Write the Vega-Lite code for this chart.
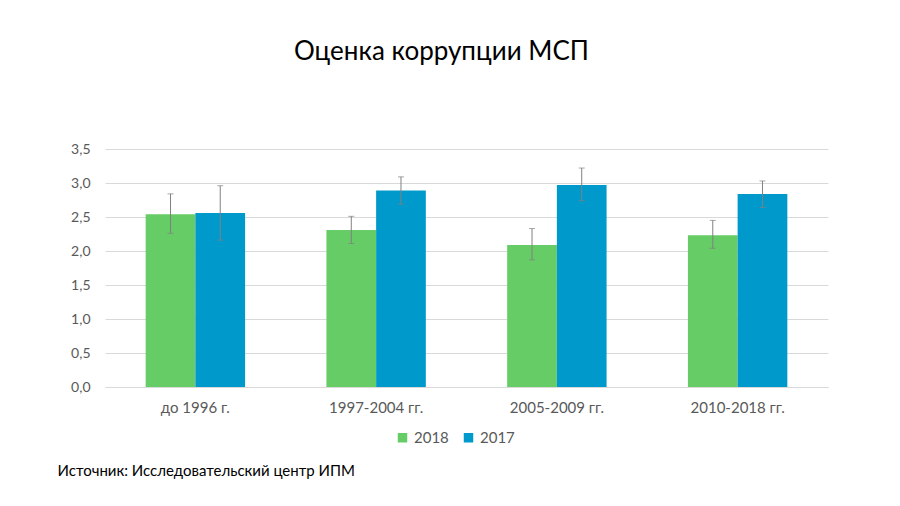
{
  "$schema": "https://vega.github.io/schema/vega-lite/v6.json",
  "width": 723,
  "height": 238,
  "autosize": {"type": "none"},
  "padding": {"left": 105, "top": 149, "right": 72, "bottom": 119},
  "background": "white",
  "title": {
    "text": "Оценка коррупции МСП",
    "anchor": "middle",
    "frame": "group",
    "dx": -25,
    "baseline": "alphabetic",
    "offset": 56,
    "font": "Lato",
    "fontSize": 26,
    "fontWeight": 400,
    "color": "#000000"
  },
  "data": {
    "values": [
      {"period": "до 1996 г.", "year": "2018", "value": 2.54, "lower": 2.26, "upper": 2.84},
      {"period": "до 1996 г.", "year": "2017", "value": 2.56, "lower": 2.16, "upper": 2.96},
      {"period": "1997-2004 гг.", "year": "2018", "value": 2.31, "lower": 2.11, "upper": 2.51},
      {"period": "1997-2004 гг.", "year": "2017", "value": 2.89, "lower": 2.69, "upper": 3.09},
      {"period": "2005-2009 гг.", "year": "2018", "value": 2.09, "lower": 1.87, "upper": 2.33},
      {"period": "2005-2009 гг.", "year": "2017", "value": 2.97, "lower": 2.74, "upper": 3.22},
      {"period": "2010-2018 гг.", "year": "2018", "value": 2.23, "lower": 2.04, "upper": 2.45},
      {"period": "2010-2018 гг.", "year": "2017", "value": 2.84, "lower": 2.64, "upper": 3.03}
    ]
  },
  "encoding": {
    "x": {
      "field": "period",
      "type": "nominal",
      "sort": null,
      "scale": {"paddingInner": 0.45, "paddingOuter": 0.225},
      "axis": {
        "title": "Источник: Исследовательский центр ИПМ",
        "titleAnchor": "start",
        "titleX": -48,
        "titleY": 88,
        "titleBaseline": "alphabetic",
        "titleFont": "Lato",
        "titleFontSize": 15,
        "titleFontWeight": 400,
        "titleColor": "#000000",
        "labelAngle": 0,
        "labelFont": "Lato",
        "labelFontSize": 15,
        "labelColor": "#595959",
        "labelPadding": 13,
        "ticks": false,
        "domain": true,
        "domainColor": "#D9D9D9",
        "grid": false
      }
    },
    "xOffset": {"field": "year", "type": "nominal", "sort": ["2018", "2017"]}
  },
  "layer": [
    {
      "mark": {"type": "bar"},
      "encoding": {
        "y": {
          "field": "value",
          "type": "quantitative",
          "scale": {"domain": [0, 3.5]},
          "axis": {
            "title": null,
            "values": [0, 0.5, 1, 1.5, 2, 2.5, 3, 3.5],
            "labelExpr": "replace(format(datum.value, '.1f'), '.', ',')",
            "labelFont": "Lato",
            "labelFontSize": 14,
            "labelColor": "#595959",
            "labelPadding": 15,
            "ticks": false,
            "domain": false,
            "grid": true,
            "gridColor": "#D9D9D9"
          }
        },
        "color": {
          "field": "year",
          "type": "nominal",
          "sort": ["2018", "2017"],
          "scale": {"domain": ["2018", "2017"], "range": ["#66CC66", "#0099CC"]},
          "legend": {
            "title": null,
            "orient": "none",
            "direction": "horizontal",
            "legendX": 290,
            "legendY": 281,
            "padding": 0,
            "symbolType": "square",
            "symbolSize": 90,
            "symbolStrokeWidth": 0,
            "labelFont": "Lato",
            "labelFontSize": 15,
            "labelColor": "#595959",
            "columnPadding": 12
          }
        }
      }
    },
    {
      "mark": {"type": "rule", "color": "#808080", "strokeWidth": 1},
      "encoding": {
        "y": {
          "field": "lower",
          "type": "quantitative",
          "axis": {
            "title": null,
            "values": [0, 0.5, 1, 1.5, 2, 2.5, 3, 3.5],
            "labelExpr": "replace(format(datum.value, '.1f'), '.', ',')",
            "labelFont": "Lato",
            "labelFontSize": 14,
            "labelColor": "#595959",
            "labelPadding": 15,
            "ticks": false,
            "domain": false,
            "grid": true,
            "gridColor": "#D9D9D9"
          }
        },
        "y2": {"field": "upper"}
      }
    },
    {
      "mark": {"type": "tick", "color": "#808080", "size": 6, "thickness": 1},
      "encoding": {
        "y": {
          "field": "lower",
          "type": "quantitative",
          "axis": {
            "title": null,
            "values": [0, 0.5, 1, 1.5, 2, 2.5, 3, 3.5],
            "labelExpr": "replace(format(datum.value, '.1f'), '.', ',')",
            "labelFont": "Lato",
            "labelFontSize": 14,
            "labelColor": "#595959",
            "labelPadding": 15,
            "ticks": false,
            "domain": false,
            "grid": true,
            "gridColor": "#D9D9D9"
          }
        }
      }
    },
    {
      "mark": {"type": "tick", "color": "#808080", "size": 6, "thickness": 1},
      "encoding": {
        "y": {
          "field": "upper",
          "type": "quantitative",
          "axis": {
            "title": null,
            "values": [0, 0.5, 1, 1.5, 2, 2.5, 3, 3.5],
            "labelExpr": "replace(format(datum.value, '.1f'), '.', ',')",
            "labelFont": "Lato",
            "labelFontSize": 14,
            "labelColor": "#595959",
            "labelPadding": 15,
            "ticks": false,
            "domain": false,
            "grid": true,
            "gridColor": "#D9D9D9"
          }
        }
      }
    }
  ],
  "config": {"view": {"stroke": null}}
}
